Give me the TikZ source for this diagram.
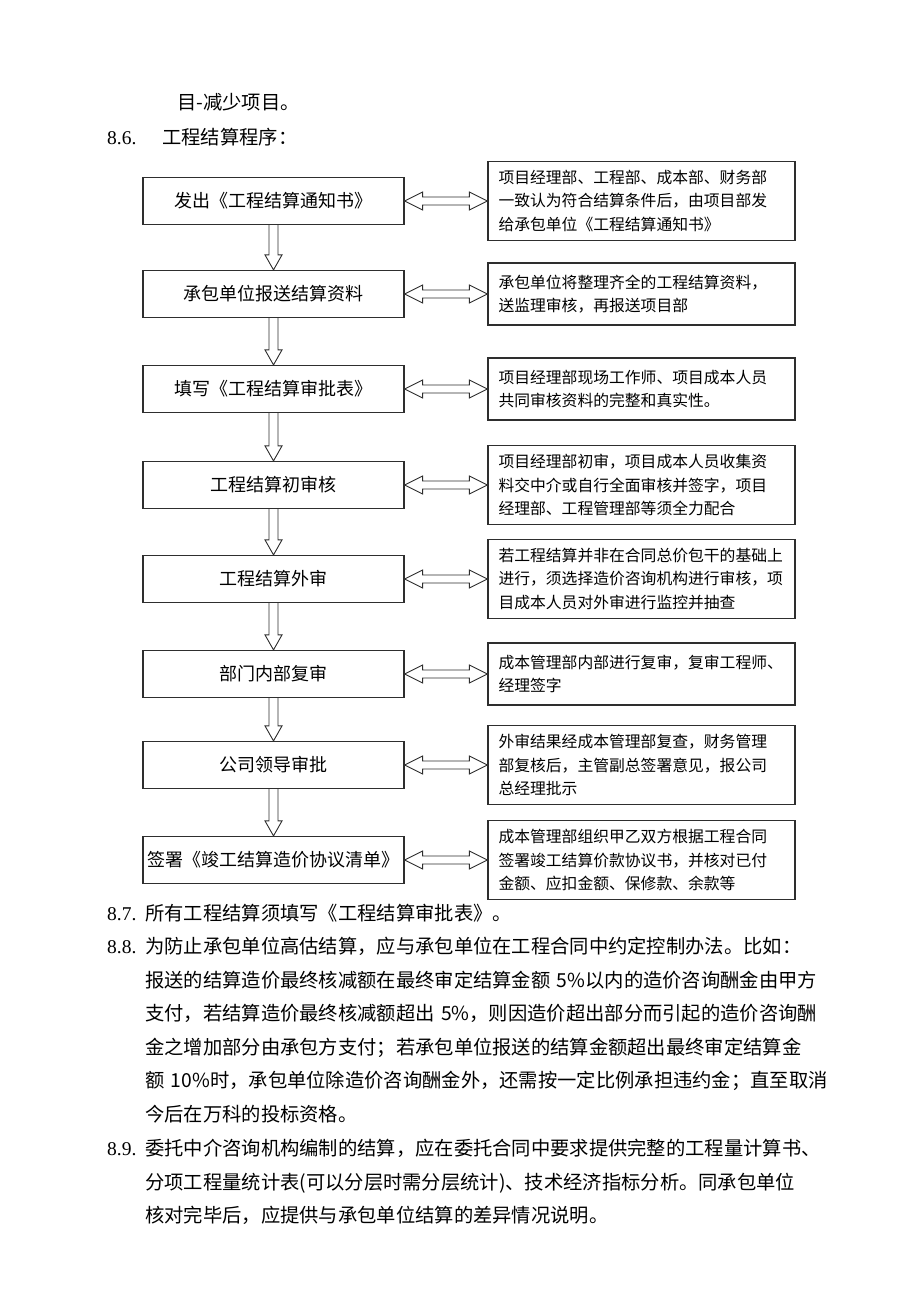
\documentclass[tikz,border=0pt]{standalone}
\usepackage{fontspec}
\setmainfont{Noto Sans CJK SC}
\newfontfamily\numfont{Liberation Serif}
\usetikzlibrary{calc}
\colorlet{Frame}{black!82}

% hollow block arrows between named boxes
\newcommand{\flowdown}[2]{%
  \draw[hollow] ($(#1.south)+(-4.5,0)$) -- ($(#2.north)+(-4.5,-15)$)
    -- ($(#2.north)+(-8.5,-15)$) -- (#2.north) -- ($(#2.north)+(8.5,-15)$)
    -- ($(#2.north)+(4.5,-15)$) -- ($(#1.south)+(4.5,0)$);}
\newcommand{\flowboth}[2]{%
  \draw[hollow] (#1.east) -- ++(18,-9) -- ++(0,5) -- ($(#2.west)+(-18,-4)$)
    -- ++(0,-5) -- (#2.west) -- ++(-18,9) -- ++(0,-5) -- ($(#1.east)+(18,4)$)
    -- ++(0,5) -- cycle;}

\begin{document}
\begin{tikzpicture}[x=1pt,y=-1pt,
  stepbox/.style={draw=Frame,line width=1.2pt,minimum width=261pt,minimum height=47pt,
    inner sep=0pt,font=\fontsize{18}{22}\selectfont},
  notebox/.style={draw=Frame,line width=1.2pt,text width=286pt,inner xsep=10.5pt,
    inner ysep=9pt,minimum height=62pt,align=left,font=\fontsize{15.8}{23.5}\selectfont},
  hollow/.style={draw=Frame,line width=0.9pt,fill=white,line join=miter},
  body/.style={font=\fontsize{19.3}{33.6}\selectfont,anchor=base west,inner sep=0pt},
  para/.style={body,text width=690pt,align=left},
  num/.style={font=\numfont\fontsize{19.5}{33.6}\selectfont,anchor=base west,inner sep=0pt}
]
\useasboundingbox (0,0) rectangle (920,1302);

\node[body] (prev) at (177,109.4) {目-减少项目。};
\node[num] (n86) at (107,144.4) {8.6.};
\node[body] (t86) at (162,144.4) {工程结算程序：};

\foreach \i/\y/\task/\memo in {
  1/201/发出《工程结算通知书》/{项目经理部、工程部、成本部、财务部\\一致认为符合结算条件后，由项目部发\\给承包单位《工程结算通知书》},
  2/294/承包单位报送结算资料/{承包单位将整理齐全的工程结算资料，\\送监理审核，再报送项目部},
  3/389/填写《工程结算审批表》/{项目经理部现场工作师、项目成本人员\\共同审核资料的完整和真实性。},
  4/485/工程结算初审核/{项目经理部初审，项目成本人员收集资\\料交中介或自行全面审核并签字，项目\\经理部、工程管理部等须全力配合},
  5/579/工程结算外审/{若工程结算并非在合同总价包干的基础上\\进行，须选择造价咨询机构进行审核，项\\目成本人员对外审进行监控并抽查},
  6/674/部门内部复审/{成本管理部内部进行复审，复审工程师、\\经理签字},
  7/765/公司领导审批/{外审结果经成本管理部复查，财务管理\\部复核后，主管副总签署意见，报公司\\总经理批示},
  8/860/签署《竣工结算造价协议清单》/{成本管理部组织甲乙双方根据工程合同\\签署竣工结算价款协议书，并核对已付\\金额、应扣金额、保修款、余款等}
} {
  \node[stepbox] (step\i) at (273.5,\y) {\task};
  \node[notebox] (note\i) at (641.5,\y) {\memo};
  \flowboth{step\i}{note\i}
}
\foreach \i [count=\j from 2] in {1,...,7} {
  \flowdown{step\i}{step\j}
}

\node[num] (n87) at (107,920.4) {8.7.};
\node[body] (t87) at (145,920.4) {所有工程结算须填写《工程结算审批表》。};
\node[num] (n88) at (107,953.4) {8.8.};
\node[para] (t88) at (145,953.4) {为防止承包单位高估结算，应与承包单位在工程合同中约定控制办法。比如：\\
报送的结算造价最终核减额在最终审定结算金额 5\%以内的造价咨询酬金由甲方\\
支付，若结算造价最终核减额超出 5\%，则因造价超出部分而引起的造价咨询酬\\
金之增加部分由承包方支付；若承包单位报送的结算金额超出最终审定结算金\\
额 10\%时，承包单位除造价咨询酬金外，还需按一定比例承担违约金；直至取消\\
今后在万科的投标资格。};
\node[num] (n89) at (107,1155.4) {8.9.};
\node[para] (t89) at (145,1155.4) {委托中介咨询机构编制的结算，应在委托合同中要求提供完整的工程量计算书、\\
分项工程量统计表(可以分层时需分层统计)、技术经济指标分析。同承包单位\\
核对完毕后，应提供与承包单位结算的差异情况说明。};
\end{tikzpicture}
\end{document}
